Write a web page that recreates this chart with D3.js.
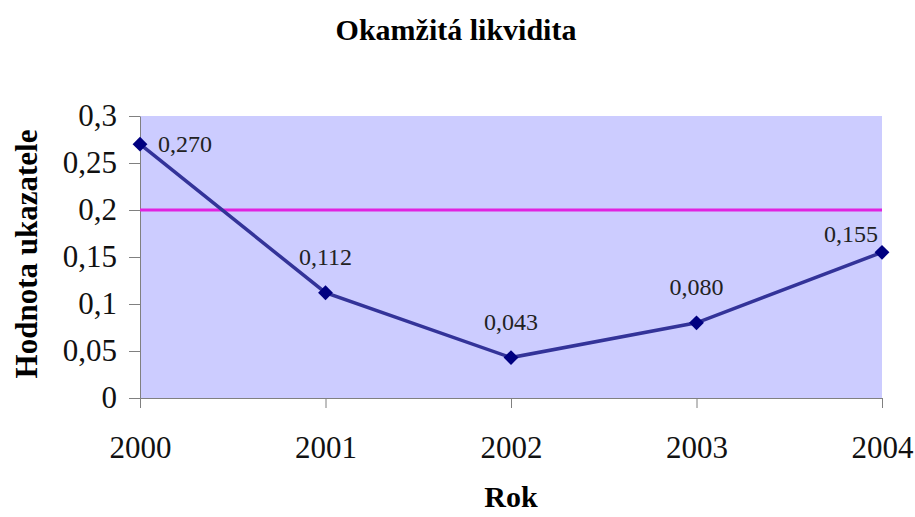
<!DOCTYPE html>
<html>
<head>
<meta charset="utf-8">
<script src="https://cdn.jsdelivr.net/npm/d3@7"></script>
<style>
  body { margin: 0; background: #fff; }
  svg { display: block; }
</style>
</head>
<body>
<div id="chart"></div>
<script>
// data
const years = ["2000", "2001", "2002", "2003", "2004"];
const values = [0.270, 0.112, 0.043, 0.080, 0.155];
const labels = ["0,270", "0,112", "0,043", "0,080", "0,155"];
const yTicks = [0, 0.05, 0.1, 0.15, 0.2, 0.25, 0.3];
const limitValue = 0.2;

const width = 915, height = 517;
const margin = {top: 116, right: 33, bottom: 119, left: 140};
const serif = '"Liberation Serif", "Times New Roman", serif';

const svg = d3.select("#chart").append("svg")
    .attr("width", width)
    .attr("height", height);

const x = d3.scalePoint()
    .domain(years)
    .range([margin.left, width - margin.right]);

const y = d3.scaleLinear()
    .domain([0, 0.3])
    .range([height - margin.bottom, margin.top]);

// plot background
svg.append("rect")
    .attr("x", margin.left)
    .attr("y", margin.top)
    .attr("width", width - margin.left - margin.right)
    .attr("height", height - margin.top - margin.bottom)
    .attr("fill", "#ccccff");

const fmt = d => d3.format("")(d).replace(".", ",");

// y axis
const yAxis = svg.append("g")
    .attr("transform", `translate(${margin.left},0)`)
    .call(d3.axisLeft(y).tickValues(yTicks).tickFormat(fmt).tickSize(11).tickPadding(12).tickSizeOuter(0));
yAxis.select(".domain").attr("stroke", "#808080");
yAxis.selectAll(".tick line").attr("stroke", "#808080");
yAxis.selectAll("text")
    .attr("font-size", 31)
    .attr("fill", "#111")
    .style("font-family", serif);

// x axis
const xAxis = svg.append("g")
    .attr("transform", `translate(0,${height - margin.bottom})`)
    .call(d3.axisBottom(x).tickSize(10).tickPadding(28).tickSizeOuter(0));
xAxis.select(".domain").attr("stroke", "#808080");
xAxis.selectAll(".tick line").attr("stroke", "#808080");
xAxis.selectAll("text")
    .attr("font-size", 31)
    .attr("fill", "#111")
    .style("font-family", serif);

// limit line
svg.append("line")
    .attr("x1", margin.left)
    .attr("x2", width - margin.right)
    .attr("y1", y(limitValue))
    .attr("y2", y(limitValue))
    .attr("stroke", "#e022e0")
    .attr("stroke-width", 3);

// series line
const line = d3.line()
    .x((d, i) => x(years[i]))
    .y(d => y(d));

svg.append("path")
    .datum(values)
    .attr("d", line)
    .attr("fill", "none")
    .attr("stroke", "#333399")
    .attr("stroke-width", 3.5);

// markers
svg.selectAll(".marker")
    .data(values)
    .join("path")
    .attr("class", "marker")
    .attr("d", d3.symbol(d3.symbolDiamond2, 140))
    .attr("transform", (d, i) => `translate(${x(years[i])},${y(d)})`)
    .attr("fill", "#000080");

// data labels: first to the right, last above-left, others above
const last = years.length - 1;
svg.selectAll(".dlabel")
    .data(values)
    .join("text")
    .attr("class", "dlabel")
    .attr("x", (d, i) => i === 0 ? x(years[i]) + 18 : (i === last ? x(years[i]) - 4 : x(years[i])))
    .attr("y", (d, i) => i === 0 ? y(d) + 8 : (i === last ? y(d) - 10 : y(d) - 28))
    .attr("text-anchor", (d, i) => i === 0 ? "start" : (i === last ? "end" : "middle"))
    .attr("font-size", 24)
    .attr("fill", "#222")
    .style("font-family", serif)
    .text((d, i) => labels[i]);

// titles
svg.append("text")
    .attr("x", 456)
    .attr("y", 40)
    .attr("text-anchor", "middle")
    .attr("font-size", 30)
    .attr("font-weight", "bold")
    .style("font-family", serif)
    .text("Okamžitá likvidita");

svg.append("text")
    .attr("x", (margin.left + width - margin.right) / 2)
    .attr("y", 507)
    .attr("text-anchor", "middle")
    .attr("font-size", 30)
    .attr("font-weight", "bold")
    .style("font-family", serif)
    .text("Rok");

svg.append("text")
    .attr("transform", "translate(37,254) rotate(-90)")
    .attr("text-anchor", "middle")
    .attr("font-size", 31)
    .attr("font-weight", "bold")
    .style("font-family", serif)
    .text("Hodnota ukazatele");
</script>
</body>
</html>
